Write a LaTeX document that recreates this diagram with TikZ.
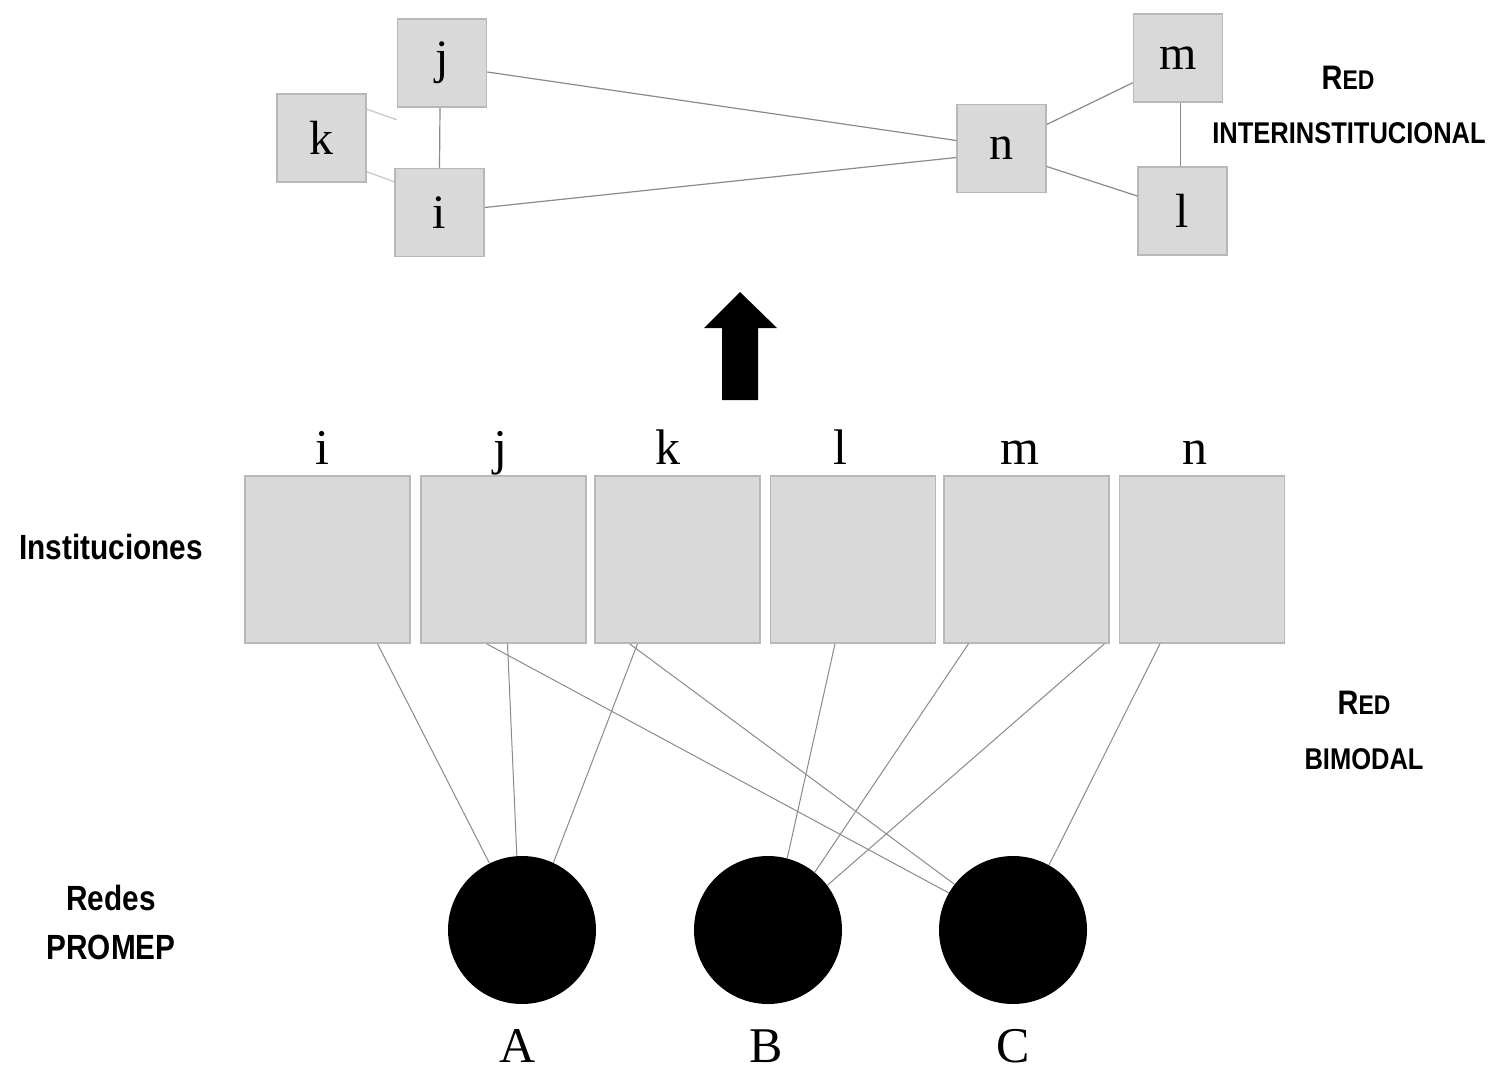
\documentclass[tikz,border=0pt]{standalone}
\usepackage{fontspec}
\newfontfamily\serifA{Liberation Serif}
\newfontfamily\narrowsans[FakeStretch=0.85]{Liberation Sans}
\definecolor{boxfill}{HTML}{D9D9D9}
\definecolor{boxline}{HTML}{B8B8B8}
\definecolor{linkgray}{HTML}{8A8A8A}
\definecolor{faintgray}{HTML}{C8C8C8}
\begin{document}
\begin{tikzpicture}[x=1pt,y=-1pt,
  tbox/.style={draw=boxline, fill=boxfill, line width=1.5pt, minimum width=89pt, minimum height=88pt, inner sep=0pt, font=\serifA\fontsize{48}{48}\selectfont},
  bbox/.style={draw=boxline, fill=boxfill, line width=1.5pt, minimum width=165pt, minimum height=167pt, inner sep=0pt},
  letter/.style={inner sep=0pt, anchor=base, font=\serifA\fontsize{50}{50}\selectfont},
  link/.style={draw=linkgray, line width=1.2pt},
  faint/.style={draw=faintgray, line width=1.2pt},
  blink/.style={draw=linkgray, line width=1pt},
  dot/.style={circle, fill=black, minimum size=148pt, inner sep=0pt},
  lab/.style={inner sep=0pt, align=center, font=\narrowsans\bfseries\fontsize{35}{49}\selectfont},
  labsm/.style={inner sep=0pt, align=center, font=\narrowsans\bfseries\fontsize{30}{55}\selectfont}
]
\useasboundingbox (0,0) rectangle (1491,1075);
\fill[white] (0,0) rectangle (1491,1075);

% top network
\node[tbox] (tj) at (442,63) {j};
\node[tbox] (tk) at (321.5,138) {k};
\node[tbox] (ti) at (439.5,212.5) {i};
\node[tbox] (tn) at (1001.5,148.5) {n};
\node[tbox] (tm) at (1178,58) {m};
\node[tbox] (tl) at (1182.5,211) {l};

\draw[link] ([yshift=-9pt]tj.east) -- ([yshift=8pt]tn.west);
\draw[link] ([yshift=5pt]ti.east) -- ([yshift=-9pt]tn.west);
\draw[link] ([xshift=-2pt]tj.south) -- ([xshift=0pt]ti.north);
\draw[faint] ([yshift=-16pt]tk.north east) -- ([yshift=-12pt]tj.south west);
\draw[faint] ([yshift=11pt]tk.south east) -- ([yshift=-14pt]ti.north west);
\draw[link] ([yshift=24pt]tn.east) -- ([yshift=20pt]tm.south west);
\draw[link] ([yshift=-18pt]tn.east) -- ([yshift=15pt]tl.west);
\draw[link] ([xshift=-2pt]tl.north |- tm.south) -- ([xshift=-2pt]tl.north);

\node[labsm] (redtop) at (1348,78) {{\fontsize{34}{34}\selectfont R}{\fontsize{27}{27}\selectfont ED}};
\node[labsm] (intertxt) at (1349,133) {INTERINSTITUCIONAL};

% arrow
\fill[black] (740,292) -- (777,328) -- (758,328) -- (758,400) -- (722,400) -- (722,328) -- (704,328) -- cycle;

% bimodal network
\node[bbox] (bi) at (327.5,559.5) {};
\node[bbox] (bj) at (503.5,559.5) {};
\node[bbox] (bk) at (677.5,559.5) {};
\node[bbox] (bl) at (853,559.5) {};
\node[bbox] (bm) at (1026.5,559.5) {};
\node[bbox] (bn) at (1202,559.5) {};

\node[letter] (li) at (322,464) {i};
\node[letter] (lj) at (500,464) {j};
\node[letter] (lk) at (668,464) {k};
\node[letter] (ll) at (840,464) {l};
\node[letter] (lm) at (1020,464) {m};
\node[letter] (ln) at (1195,464) {n};

\node[dot] (A) at (522,930) {};
\node[dot] (B) at (768,930) {};
\node[dot] (C) at (1013,930) {};

\node[letter] (la) at (518,1062) {A};
\node[letter] (lb) at (766,1062) {B};
\node[letter] (lc) at (1013,1062) {C};

\draw[blink] ([xshift=50pt]bi.south) -- (A.116);
\draw[blink] ([xshift=4pt]bj.south) -- (A.94);
\draw[blink] ([xshift=-40pt]bk.south) -- (A.65);
\draw[blink] ([xshift=-17pt]bj.south) -- (C.150);
\draw[blink] ([xshift=-48pt]bk.south) -- (C.142);
\draw[blink] ([xshift=-18pt]bl.south) -- (B.75);
\draw[blink] ([xshift=-58pt]bm.south) -- (B.51);
\draw[blink] ([xshift=78pt]bm.south) -- (B.37);
\draw[blink] ([xshift=-42pt]bn.south) -- (C.61);

\node[lab] (inst) at (111,547) {Instituciones};
\node[lab] (redes) at (111,922) {Redes\\PROMEP};
\node[labsm] (redbi) at (1364,730) {{\fontsize{34}{34}\selectfont R}{\fontsize{27}{27}\selectfont ED}\\BIMODAL};
\end{tikzpicture}
\end{document}
